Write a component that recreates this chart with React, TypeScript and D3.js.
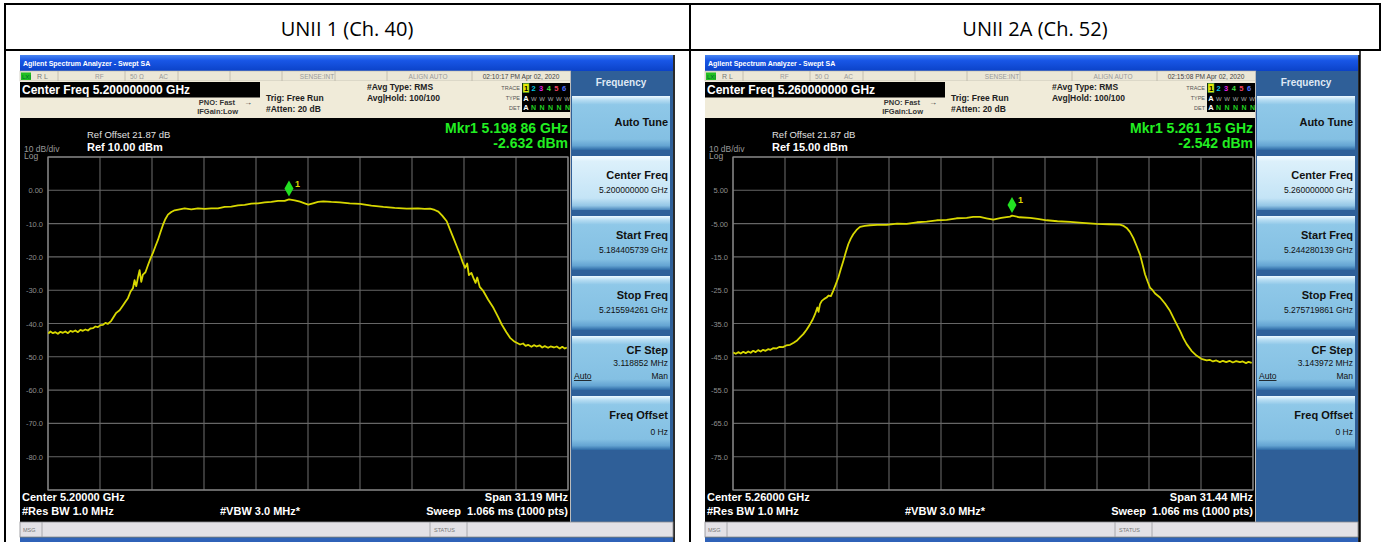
import React from 'react';
import * as d3 from 'd3';

// ---------- data ----------
const PANEL_TITLES = ['UNII 1 (Ch. 40)', 'UNII 2A (Ch. 52)'];
const CENTER_FREQ = ['5.200000000 GHz', '5.260000000 GHz'];
const START_FREQ = ['5.184405739 GHz', '5.244280139 GHz'];
const STOP_FREQ = ['5.215594261 GHz', '5.275719861 GHz'];
const CF_STEP = ['3.118852 MHz', '3.143972 MHz'];
const SPAN_MHZ = [31.188522, 31.439722];
const SPAN_LABEL = ['31.19 MHz', '31.44 MHz'];
const CENTER_LABEL = ['5.20000 GHz', '5.26000 GHz'];
const REF_LEVEL = [10, 15];
const TIMESTAMP = ['02:10:17 PM Apr 02, 2020', '02:15:08 PM Apr 02, 2020'];
const MARKER_OFFSET_MHZ = [-1.14, 1.15];
const MARKER_DBM = [-2.632, -2.542];
const MARKER_FREQ_LABEL = ['5.198 86 GHz', '5.261 15 GHz'];
const SOFTKEYS = ['Auto Tune', 'Center Freq', 'Start Freq', 'Stop Freq', 'CF Step', 'Freq Offset'];

// [offset from center in MHz, level in dBm]
const TRACE_CH40: [number, number][] = [
  [-15.58, -43.0], [-15.45, -42.4], [-15.3, -42.9], [-15.15, -42.6], [-15.0, -43.1], [-14.85, -42.5],
  [-14.7, -42.8], [-14.55, -42.4], [-14.4, -42.9], [-14.25, -42.2], [-14.1, -42.5], [-13.95, -42.1],
  [-13.8, -42.6], [-13.65, -41.9], [-13.5, -42.2], [-13.35, -41.8], [-13.2, -42.1], [-13.05, -41.5],
  [-12.9, -41.4], [-12.75, -40.9], [-12.6, -41.1], [-12.45, -40.5], [-12.3, -40.4], [-12.15, -39.8],
  [-12.0, -40.1], [-11.8, -39.2], [-11.65, -38.0], [-11.5, -36.8], [-11.3, -36.0], [-11.1, -34.6],
  [-10.95, -33.5], [-10.8, -32.4], [-10.65, -30.5], [-10.5, -29.4], [-10.4, -27.0], [-10.3, -28.8],
  [-10.2, -26.2], [-10.1, -24.0], [-10.0, -27.5], [-9.9, -25.3], [-9.75, -24.6], [-9.6, -22.5],
  [-9.45, -20.5], [-9.3, -18.8], [-9.15, -16.8], [-9.0, -14.9], [-8.85, -12.6], [-8.7, -10.4],
  [-8.55, -8.6], [-8.4, -7.3], [-8.2, -6.5], [-8.0, -6.0], [-7.7, -5.7], [-7.4, -5.4], [-7.0, -5.7],
  [-6.6, -5.4], [-6.2, -5.6], [-5.8, -5.4], [-5.4, -5.4], [-5.0, -5.0], [-4.6, -4.9], [-4.2, -4.5],
  [-3.8, -4.4], [-3.4, -4.0], [-3.0, -3.9], [-2.6, -3.6], [-2.2, -3.5], [-1.8, -3.2], [-1.4, -3.2],
  [-1.14, -2.7], [-0.8, -3.0], [-0.48, -3.4], [-0.2, -3.9], [0.02, -4.3], [0.3, -3.9], [0.6, -3.5],
  [0.92, -3.3], [1.4, -3.5], [1.92, -3.6], [2.5, -3.9], [3.12, -4.1], [3.8, -4.6], [4.52, -5.0],
  [5.2, -5.3], [5.92, -5.5], [6.6, -5.4], [7.0, -5.6], [7.32, -5.5], [7.6, -5.9], [7.82, -6.4],
  [8.05, -7.6], [8.32, -9.3], [8.52, -11.8], [8.72, -14.3], [8.92, -16.8], [9.12, -19.3],
  [9.27, -21.5], [9.42, -23.3], [9.55, -22.0], [9.65, -25.5], [9.8, -24.8], [9.92, -26.3],
  [10.05, -27.8], [10.15, -26.2], [10.3, -29.0], [10.52, -30.3], [10.8, -32.8], [11.12, -35.3],
  [11.4, -38.0], [11.62, -40.3], [11.9, -42.6], [12.12, -44.3], [12.4, -45.5], [12.72, -46.3],
  [12.9, -46.0], [13.05, -46.7], [13.2, -46.4], [13.4, -47.0], [13.55, -46.5], [13.72, -46.9],
  [13.9, -46.6], [14.05, -47.2], [14.2, -46.8], [14.4, -47.3], [14.55, -46.9], [14.75, -47.2],
  [14.92, -46.9], [15.1, -47.5], [15.25, -47.0], [15.4, -47.5], [15.52, -47.2],
];

const TRACE_CH52: [number, number][] = [
  [-15.7, -43.7], [-15.55, -44.1], [-15.4, -43.6], [-15.25, -44.0], [-15.1, -43.5], [-14.95, -43.9],
  [-14.8, -43.4], [-14.65, -43.8], [-14.5, -43.2], [-14.35, -43.6], [-14.2, -43.0], [-14.05, -43.4],
  [-13.9, -42.9], [-13.75, -43.2], [-13.6, -42.7], [-13.45, -42.9], [-13.3, -42.4], [-13.1, -42.5],
  [-12.9, -42.0], [-12.7, -42.1], [-12.5, -41.6], [-12.27, -41.4], [-12.05, -40.8], [-11.87, -40.2],
  [-11.67, -39.2], [-11.47, -38.2], [-11.26, -36.8], [-11.06, -35.2], [-10.9, -33.8], [-10.76, -32.2],
  [-10.62, -30.2], [-10.55, -31.5], [-10.46, -29.2], [-10.35, -28.2], [-10.2, -27.6], [-10.06, -27.2],
  [-9.95, -26.6], [-9.8, -26.8], [-9.66, -25.2], [-9.5, -23.2], [-9.35, -21.2], [-9.2, -18.6],
  [-9.05, -16.2], [-8.9, -13.6], [-8.75, -11.2], [-8.6, -9.5], [-8.45, -8.2], [-8.25, -6.9],
  [-8.04, -6.0], [-7.75, -5.7], [-7.44, -5.5], [-7.0, -5.4], [-6.43, -5.4], [-5.8, -5.0],
  [-5.22, -5.1], [-4.6, -4.6], [-4.01, -4.4], [-3.4, -4.0], [-2.8, -3.9], [-2.2, -3.4], [-1.59, -3.3],
  [-1.2, -3.0], [-0.79, -3.0], [-0.4, -3.4], [0.02, -3.8], [0.5, -3.3], [1.03, -2.9], [1.15, -2.6],
  [1.6, -3.1], [2.24, -3.3], [2.7, -3.6], [3.25, -4.0], [3.9, -4.3], [4.66, -4.5], [5.4, -4.8],
  [6.27, -5.1], [7.0, -5.2], [7.68, -5.3], [7.9, -5.7], [8.08, -6.3], [8.28, -7.5], [8.48, -9.3],
  [8.69, -11.8], [8.89, -14.3], [9.05, -17.4], [9.19, -20.2], [9.35, -22.4], [9.49, -24.2],
  [9.65, -25.0], [9.8, -26.0], [10.1, -27.2], [10.4, -29.0], [10.7, -31.2], [11.0, -34.2],
  [11.31, -37.2], [11.51, -39.4], [11.71, -41.2], [12.0, -43.2], [12.32, -44.7], [12.6, -45.6],
  [12.92, -46.1], [13.1, -45.9], [13.3, -46.4], [13.5, -46.1], [13.72, -46.6], [13.9, -46.2],
  [14.1, -46.6], [14.3, -46.2], [14.5, -46.7], [14.7, -46.3], [14.93, -46.6], [15.1, -46.4],
  [15.3, -46.9], [15.45, -46.5], [15.64, -46.8],
];
const TRACES = [TRACE_CH40, TRACE_CH52];

// ---------- drawing ----------
const SA = "'Liberation Sans', Arial, sans-serif";
const TITLE_FONT = "'Open Sans', 'Noto Sans', sans-serif";

function Analyzer({ i, tx, ty }: { i: number; tx: number; ty: number }) {
  const PW = 655;
  const gx0 = 28, gx1 = 548, gy0 = 102, gy1 = 435;
  const span = SPAN_MHZ[i];
  const ref = REF_LEVEL[i];
  const xs = d3.scaleLinear().domain([-span / 2, span / 2]).range([gx0, gx1]);
  const ys = d3.scaleLinear().domain([ref - 100, ref]).range([gy1, gy0]);
  const line = d3.line<[number, number]>().x(d => xs(d[0])).y(d => ys(d[1]));
  const xGrid = d3.range(11).map(k => -span / 2 + (k * span) / 10);
  const yGrid = d3.range(11).map(k => ref - 10 * k);
  const fmt = (v: number) => (Math.abs(v) < 10 ? v.toFixed(2) : v.toFixed(1));
  const mx = xs(MARKER_OFFSET_MHZ[i]);
  const my = ys(MARKER_DBM[i]);
  const dBot = my - 2.5, dTop = dBot - 16;
  const clipId = `clip${i}`;
  const statusSeps = [38, 105, 158, 210, 262, 315, 367, 452];
  const traceColors = ['#e8e800', '#00c8e0', '#e020e0', '#40e040', '#f04060', '#5070ff'];

  return (
    <g transform={`translate(${tx},${ty})`}>
      <defs>
        <clipPath id={clipId}>
          <rect x={gx0} y={gy0 - 2} width={gx1 - gx0} height={gy1 - gy0 + 2} />
        </clipPath>
      </defs>
      <rect x={0} y={0} width={PW} height={487} fill="#2f5f98" />
      <rect x={0} y={0} width={PW} height={16} fill="url(#titleGrad)" />
      <text x={3} y={10.5} fill="#fff" fontFamily={SA} fontWeight="bold" fontSize={7}>
        Agilent Spectrum Analyzer - Swept SA
      </text>
      <rect x={0} y={16} width={551} height={10} fill="#ebe7d7" stroke="#b9b5a6" strokeWidth={0.6} />
      {statusSeps.map(s => (
        <line key={s} x1={s} x2={s} y1={16} y2={26} stroke="#b9b5a6" strokeWidth={0.8} />
      ))}
      <rect x={1} y={17.5} width={10} height={7.5} fill="#22c022" />
      <text x={2} y={24} fontFamily={SA} fontSize={6} fill="#063">LXI</text>
      <text x={17} y={23.5} fontFamily={SA} fontSize={7} fill="#777">R L</text>
      <text x={75} y={23.5} fontFamily={SA} fontSize={6.5} fill="#999">RF</text>
      <text x={110} y={23.5} fontFamily={SA} fontSize={6.5} fill="#999">50 Ω</text>
      <text x={139} y={23.5} fontFamily={SA} fontSize={6.5} fill="#999">AC</text>
      <text x={297} y={23.5} fontFamily={SA} fontSize={6.5} fill="#999" textAnchor="middle">SENSE:INT</text>
      <text x={408} y={23.5} fontFamily={SA} fontSize={6.5} fill="#999" textAnchor="middle">ALIGN AUTO</text>
      <text x={501} y={23.5} fontFamily={SA} fontSize={6.6} fill="#444" textAnchor="middle">{TIMESTAMP[i]}</text>
      <rect x={0} y={26} width={551} height={37} fill="#f0ebd9" />
      <rect x={0} y={27} width={240} height={15.5} fill="#000" />
      <text x={2} y={38.5} fill="#fff" fontFamily={SA} fontWeight="bold" fontSize={12}>
        Center Freq {CENTER_FREQ[i]}
      </text>
      <text x={215} y={49.5} textAnchor="end" fontFamily={SA} fontWeight="bold" fontSize={7.5} fill="#333">PNO: Fast</text>
      <text x={228} y={49.5} textAnchor="middle" fontFamily={SA} fontWeight="bold" fontSize={8} fill="#333">→</text>
      <text x={218} y={58.5} textAnchor="end" fontFamily={SA} fontWeight="bold" fontSize={7.5} fill="#333">IFGain:Low</text>
      <text x={246} y={46} fontFamily={SA} fontWeight="bold" fontSize={8.5} fill="#222">Trig: Free Run</text>
      <text x={246} y={57} fontFamily={SA} fontWeight="bold" fontSize={8.5} fill="#222">#Atten: 20 dB</text>
      <text x={347} y={35} fontFamily={SA} fontWeight="bold" fontSize={8.5} fill="#222">#Avg Type: RMS</text>
      <text x={347} y={46} fontFamily={SA} fontWeight="bold" fontSize={8.5} fill="#222">Avg|Hold: 100/100</text>
      <text x={500} y={34.5} textAnchor="end" fontFamily={SA} fontSize={5.5} fill="#555">TRACE</text>
      <text x={500} y={44.5} textAnchor="end" fontFamily={SA} fontSize={5.5} fill="#555">TYPE</text>
      <text x={500} y={54.5} textAnchor="end" fontFamily={SA} fontSize={5.5} fill="#555">DET</text>
      <rect x={502} y={28} width={49} height={29} fill="#000" />
      <rect x={503} y={28.5} width={6} height={9} fill="#e8e800" stroke="#4a4" strokeWidth={0.6} />
      {traceColors.map((c, k) => (
        <text key={k} x={506 + k * 7.6} y={36} textAnchor="middle" fontFamily={SA} fontWeight="bold" fontSize={7.5}
          fill={k === 0 ? '#000' : c}>{k + 1}</text>
      ))}
      <text x={506} y={45.5} textAnchor="middle" fontFamily={SA} fontWeight="bold" fontSize={7.5} fill="#fff">A</text>
      <text x={511} y={45.5} fontFamily={SA} fontSize={6} fill="#aaa" textLength={39}>WWWWW</text>
      <text x={506} y={55} textAnchor="middle" fontFamily={SA} fontWeight="bold" fontSize={7.5} fill="#fff">A</text>
      <text x={511} y={55} fontFamily={SA} fontWeight="bold" fontSize={7} fill="#20d020" textLength={39}>NNNNN</text>

      <rect x={0} y={63} width={550} height={404} fill="#000" />
      <line x1={550.5} x2={550.5} y1={16} y2={467} stroke="#bcbcbc" strokeWidth={1} />
      <text x={67} y={83} fill="#e0e0e0" fontFamily={SA} fontSize={9.5}>Ref Offset 21.87 dB</text>
      <text x={67} y={96} fill="#fff" fontFamily={SA} fontWeight="bold" fontSize={11}>Ref {ref.toFixed(2)} dBm</text>
      <text x={4} y={96.5} fill="#999" fontFamily={SA} fontSize={8.5}>10 dB/div</text>
      <text x={4} y={104} fill="#999" fontFamily={SA} fontSize={8.5}>Log</text>
      <text x={548} y={78} textAnchor="end" fill="#22ee22" fontFamily={SA} fontWeight="bold" fontSize={14}>
        Mkr1 {MARKER_FREQ_LABEL[i]}
      </text>
      <text x={548} y={93} textAnchor="end" fill="#22ee22" fontFamily={SA} fontWeight="bold" fontSize={14}>
        {MARKER_DBM[i].toFixed(3)} dBm
      </text>
      {xGrid.map((f, k) => (
        <line key={'x' + k} x1={xs(f)} x2={xs(f)} y1={gy0} y2={gy1} stroke="#666" strokeWidth={1.1} />
      ))}
      {yGrid.map((v, k) => (
        <line key={'y' + k} x1={gx0} x2={gx1} y1={ys(v)} y2={ys(v)} stroke="#666" strokeWidth={1.1} />
      ))}
      <rect x={gx0} y={gy0} width={gx1 - gx0} height={gy1 - gy0} fill="none" stroke="#8a8a8a" strokeWidth={1.2} />
      {yGrid.slice(1, 10).map(v => (
        <text key={'l' + v} x={23} y={ys(v) + 3} textAnchor="end" fill="#8e8e8e" fontFamily={SA} fontSize={7.5}>
          {fmt(v)}
        </text>
      ))}
      <path d={line(TRACES[i]) || ''} fill="none" stroke="#d8d800" strokeWidth={1.8} strokeLinejoin="round"
        clipPath={`url(#${clipId})`} />
      <path d={`M${mx},${dTop} L${mx + 4.5},${(dTop + dBot) / 2} L${mx},${dBot} L${mx - 4.5},${(dTop + dBot) / 2} Z`}
        fill="#22e022" />
      <text x={mx + 6} y={dTop + 6} fill="#d8d800" fontFamily={SA} fontWeight="bold" fontSize={9}>1</text>
      <text x={2} y={446} fill="#fff" fontFamily={SA} fontWeight="bold" fontSize={11}>Center {CENTER_LABEL[i]}</text>
      <text x={2} y={460} fill="#fff" fontFamily={SA} fontWeight="bold" fontSize={11}>#Res BW 1.0 MHz</text>
      <text x={200} y={460} fill="#fff" fontFamily={SA} fontWeight="bold" fontSize={11}>#VBW 3.0 MHz*</text>
      <text x={548} y={446} textAnchor="end" fill="#fff" fontFamily={SA} fontWeight="bold" fontSize={11}>
        Span {SPAN_LABEL[i]}
      </text>
      <text x={548} y={460} textAnchor="end" fill="#fff" fontFamily={SA} fontWeight="bold" fontSize={11} xmlSpace="preserve">
        Sweep  1.066 ms (1000 pts)
      </text>

      <rect x={551} y={16} width={102} height={451} fill="#2f5f98" />
      <text x={601} y={31} textAnchor="middle" fill="#dfe9f5" fontFamily={SA} fontWeight="bold" fontSize={10}>
        Frequency
      </text>
      {SOFTKEYS.map((k, j) => {
        const t = 41 + 60 * j;
        return (
          <g key={k}>
            <rect x={552} y={t} width={98} height={54} fill={j === 1 ? 'url(#btnSel)' : 'url(#btnGrad)'} />
            {j === 0 && (
              <text x={648} y={t + 30} textAnchor="end" fontFamily={SA} fontWeight="bold" fontSize={11} fill="#111">{k}</text>
            )}
            {(j === 1 || j === 2 || j === 3) && (
              <>
                <text x={648} y={t + 23} textAnchor="end" fontFamily={SA} fontWeight="bold" fontSize={11} fill="#111">{k}</text>
                <text x={648} y={t + 37} textAnchor="end" fontFamily={SA} fontSize={8.5} fill="#111">
                  {j === 1 ? CENTER_FREQ[i] : j === 2 ? START_FREQ[i] : STOP_FREQ[i]}
                </text>
              </>
            )}
            {j === 4 && (
              <>
                <text x={648} y={t + 18} textAnchor="end" fontFamily={SA} fontWeight="bold" fontSize={11} fill="#111">{k}</text>
                <text x={648} y={t + 30} textAnchor="end" fontFamily={SA} fontSize={8.5} fill="#111">{CF_STEP[i]}</text>
                <text x={554} y={t + 43} fontFamily={SA} fontSize={8.5} fill="#111" textDecoration="underline">Auto</text>
                <text x={648} y={t + 43} textAnchor="end" fontFamily={SA} fontSize={8.5} fill="#111">Man</text>
              </>
            )}
            {j === 5 && (
              <>
                <text x={648} y={t + 23} textAnchor="end" fontFamily={SA} fontWeight="bold" fontSize={11} fill="#111">{k}</text>
                <text x={648} y={t + 39} textAnchor="end" fontFamily={SA} fontSize={8.5} fill="#111">0 Hz</text>
              </>
            )}
          </g>
        );
      })}
      <rect x={653} y={0} width={2} height={487} fill="#2a2a2a" />
      <rect x={0} y={467} width={653} height={15} fill="#e3e1e6" stroke="#8a8a90" strokeWidth={0.8} />
      <line x1={22} x2={22} y1={467} y2={482} stroke="#9a9aa0" strokeWidth={0.8} />
      <line x1={410} x2={410} y1={467} y2={482} stroke="#9a9aa0" strokeWidth={0.8} />
      <line x1={447} x2={447} y1={467} y2={482} stroke="#9a9aa0" strokeWidth={0.8} />
      <text x={3} y={477} fontFamily={SA} fontSize={5.5} fill="#777">MSG</text>
      <text x={414} y={477} fontFamily={SA} fontSize={5.5} fill="#777">STATUS</text>
      <rect x={0} y={483} width={653} height={4} fill="#2f62b8" />
    </g>
  );
}

export default function App() {
  const W = 1381, H = 542;
  return (
    <svg width={W} height={H} style={{ position: 'absolute', left: 0, top: 0, background: '#fff' }}>
      <defs>
        <linearGradient id="titleGrad" x1="0" y1="0" x2="0" y2="1">
          <stop offset="0%" stopColor="#4a86f2" />
          <stop offset="35%" stopColor="#1856e6" />
          <stop offset="100%" stopColor="#0b42c8" />
        </linearGradient>
        <linearGradient id="btnGrad" x1="0" y1="0" x2="0" y2="1">
          <stop offset="0%" stopColor="#eef8fe" />
          <stop offset="7%" stopColor="#b9def3" />
          <stop offset="16%" stopColor="#8fc8e8" />
          <stop offset="80%" stopColor="#84c0e3" />
          <stop offset="92%" stopColor="#64a4d2" />
          <stop offset="100%" stopColor="#2e6aa6" />
        </linearGradient>
        <linearGradient id="btnSel" x1="0" y1="0" x2="0" y2="1">
          <stop offset="0%" stopColor="#f6fcff" />
          <stop offset="10%" stopColor="#dcf0fb" />
          <stop offset="78%" stopColor="#c4e4f6" />
          <stop offset="92%" stopColor="#94c6e6" />
          <stop offset="100%" stopColor="#4a86bc" />
        </linearGradient>
      </defs>
      <line x1={5} x2={W} y1={4} y2={4} stroke="#000" strokeWidth={2} />
      <line x1={5} x2={W} y1={50} y2={50} stroke="#000" strokeWidth={2} />
      <line x1={5} x2={5} y1={3} y2={H} stroke="#000" strokeWidth={2} />
      <line x1={690} x2={690} y1={3} y2={H} stroke="#000" strokeWidth={2} />
      <line x1={1380} x2={1380} y1={3} y2={50} stroke="#000" strokeWidth={2} />
      <text x={347} y={36} textAnchor="middle" fontFamily={TITLE_FONT} fontSize={20} fill="#000">{PANEL_TITLES[0]}</text>
      <text x={1035} y={36} textAnchor="middle" fontFamily={TITLE_FONT} fontSize={20} fill="#000">{PANEL_TITLES[1]}</text>
      <Analyzer i={0} tx={20} ty={55} />
      <Analyzer i={1} tx={705} ty={55} />
      <line x1={1360} x2={1360} y1={50} y2={H} stroke="#000" strokeWidth={1.5} />
    </svg>
  );
}
